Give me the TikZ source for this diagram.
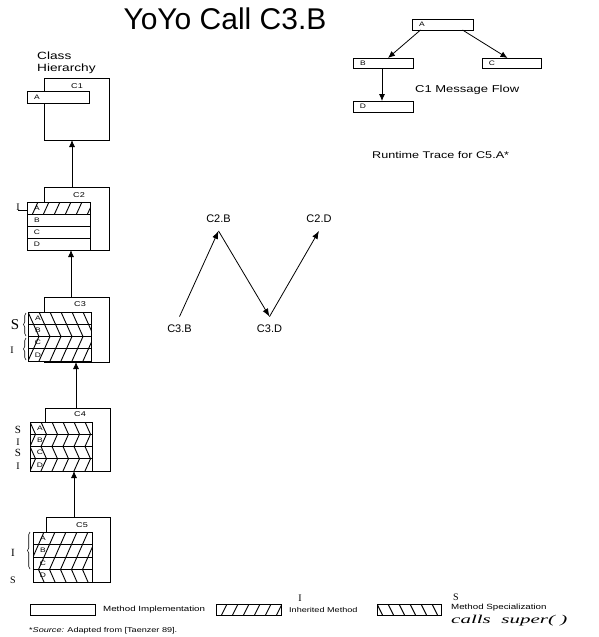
\documentclass[tikz,border=0pt]{standalone}
\usepackage{fontspec}
\setmainfont{Liberation Sans}
\newfontfamily\handfont{Liberation Serif}
\usetikzlibrary{arrows.meta,decorations.pathreplacing}
\newcommand\wideT[1]{\scalebox{1.3}[1]{#1}}
\newcommand\fs[1]{\fontsize{#1}{#1}\selectfont}
\newcommand\methrow[6]{%
  \node[meth, minimum width=#4, minimum height=#5] (#1) at (#2,#3) {};
  \node[rowlbl] (#1l) at ([xshift=10]#1.west) {\wideT{#6}};}
\def\rowh{12.25}
\newcommand\hatchrow[6]{%
  \begin{scope}
  \clip (#1,#2) rectangle (#3,#4);
  \foreach \k in {-3,...,10}
    \draw[hat] ({#1+11*\k+(#5)*5.5*((#2)-(#6))/\rowh},#2) -- ({#1+11*\k+(#5)*5.5*((#4)-(#6))/\rowh},#4);
  \end{scope}}
\begin{document}
\begin{tikzpicture}[x=1pt,y=-1pt,
  frame/.style={draw, line width=0.8pt, inner sep=0pt, outer sep=0pt, anchor=north west},
  meth/.style={draw, fill=white, line width=0.8pt, inner sep=0pt, outer sep=0pt, anchor=north west},
  rowlbl/.style={font=\fs{6.5}, inner sep=0pt},
  clbl/.style={font=\fs{7}, inner sep=0pt},
  hat/.style={line width=0.9pt},
  harr/.style={line width=0.8pt, -{Latex[length=7pt,width=6pt]}},
  farr/.style={line width=0.8pt, -{Latex[length=7pt,width=6pt]}},
  tarr/.style={line width=0.8pt, -{Latex[length=8pt,width=6pt]}},
  tlbl/.style={font=\fs{11}, inner sep=0.5pt, outer sep=8pt},
  hand/.style={font=\handfont\fs{10}, inner sep=0pt},
  brc/.style={decorate, decoration={brace, amplitude=2.5pt}, line width=0.6pt},
  txt/.style={inner sep=0pt, anchor=west},
]
\fill[white] (0,0) rectangle (598,637);
\useasboundingbox (0,0) rectangle (598,637);

% title
\node[font=\fs{30}, inner sep=0pt] (title) at (225,19) {YoYo Call C3.B};

% class hierarchy
\node[anchor=north west, inner sep=0pt, align=left, font=\fontsize{10.5}{11.5}\selectfont] (hier) at (37,52) {\wideT{Class}\\\wideT{Hierarchy}};

% C1
\node[frame, minimum width=65, minimum height=62] (c1) at (44,78) {};
\node[clbl] (c1n) at (77,86) {\wideT{C1}};
\methrow{c1a}{27}{91}{62}{12}{A}

% C2
\node[frame, minimum width=65, minimum height=63] (c2) at (44,187) {};
\node[clbl] (c2n) at (79,195) {\wideT{C2}};
\methrow{c2a}{27}{202}{63}{12}{A}
\methrow{c2b}{27}{214}{63}{12}{B}
\methrow{c2c}{27}{226}{63}{12}{C}
\methrow{c2d}{27}{238}{63}{12}{D}
\def\rowh{12}
\hatchrow{27}{202}{90}{214}{-1}{202}
\node[hand] (c2i) at (18,207) {I};
\draw[line width=0.6pt] (c2i.south) -- (c2i.south -| c2a.west);
\draw[harr] ([xshift=-4.5]c2.north) -- ([xshift=-4.5]c1.south);

% C3
\node[frame, minimum width=65, minimum height=65] (c3) at (44,297) {};
\node[clbl] (c3n) at (80,304) {\wideT{C3}};
\methrow{c3a}{28}{312}{63}{12.25}{A}
\methrow{c3b}{28}{324.25}{63}{12.25}{B}
\methrow{c3c}{28}{336.5}{63}{12.25}{C}
\methrow{c3d}{28}{348.75}{63}{12.25}{D}
\def\rowh{12.25}
\hatchrow{28}{312}{91}{324.25}{1}{312}
\hatchrow{28}{324.25}{91}{336.5}{1}{312}
\hatchrow{28}{336.5}{91}{348.75}{-1}{312}
\hatchrow{28}{348.75}{91}{361}{-1}{312}
\node[hand, font=\handfont\fs{15}] (c3s) at (15,325) {S};
\node[hand] (c3i) at (12,350) {I};
\draw[brc] (26,336) -- (26,313);
\draw[brc] (26,360) -- (26,338);
\draw[harr] ([xshift=-5.5]c3.north) -- ([xshift=-5.5]c2.south);

% C4
\node[frame, minimum width=65, minimum height=63] (c4) at (45,408) {};
\node[clbl] (c4n) at (80,414) {\wideT{C4}};
\methrow{c4a}{30}{422}{62}{12.25}{A}
\methrow{c4b}{30}{434.25}{62}{12.25}{B}
\methrow{c4c}{30}{446.5}{62}{12.25}{C}
\methrow{c4d}{30}{458.75}{62}{12.25}{D}
\hatchrow{30}{422}{92}{434.25}{1}{422}
\hatchrow{30}{434.25}{92}{446.5}{-1}{422}
\hatchrow{30}{446.5}{92}{458.75}{1}{422}
\hatchrow{30}{458.75}{92}{471}{-1}{422}
\node[hand, font=\handfont\fs{11}] (c4s1) at (18,430) {S};
\node[hand] (c4i1) at (18,442) {I};
\node[hand, font=\handfont\fs{11}] (c4s2) at (18,453) {S};
\node[hand] (c4i2) at (18,466) {I};
\draw[harr] ([xshift=-1.5]c4.north) -- ([xshift=-0.5]c3.south);

% C5
\node[frame, minimum width=64, minimum height=65] (c5) at (46,517) {};
\node[clbl] (c5n) at (82,525) {\wideT{C5}};
\methrow{c5a}{33}{532}{59}{12.5}{A}
\methrow{c5b}{33}{544.5}{59}{12.5}{B}
\methrow{c5c}{33}{557}{59}{12.5}{C}
\methrow{c5d}{33}{569.5}{59}{12.5}{D}
\def\rowh{12.5}
\hatchrow{33}{532}{92}{544.5}{-1}{532}
\hatchrow{33}{544.5}{92}{557}{-1}{532}
\hatchrow{33}{557}{92}{569.5}{-1}{532}
\hatchrow{33}{569.5}{92}{582}{1}{532}
\node[hand, font=\handfont\fs{11}] (c5i) at (13,553) {I};
\node[hand, font=\handfont\fs{10}] (c5s) at (13,580) {S};
\draw[brc] (30,569) -- (30,532);
\draw[harr] ([xshift=-4]c5.north) -- ([xshift=-3.5]c4.south);

% legend
\def\rowh{11}
\node[meth, minimum width=65, minimum height=11] (lg1) at (30,604) {};
\node[txt, font=\fs{7.5}] (lg1t) at (103,610) {\wideT{Method Implementation}};
\node[meth, minimum width=65, minimum height=11] (lg2) at (216,604) {};
\hatchrow{216}{604}{281}{615}{-1}{604}
\node[txt, font=\fs{7}] (lg2t) at (289,610) {\wideT{Inherited Method}};
\node[hand] (lg2i) at (300,598) {I};
\node[meth, minimum width=64, minimum height=11] (lg3) at (377,604) {};
\hatchrow{377}{604}{441}{615}{1}{604}
\node[txt, font=\fs{7.5}] (lg3t) at (451,608) {\wideT{Method Specialization}};
\node[hand] (lg3s) at (456,597) {S};
\node[txt, font=\handfont\itshape\fs{12}] (calls) at (451,621) {\scalebox{1.75}[1]{calls\ \ super( )}};
\node[txt, font=\fs{7}] (src) at (29,631) {\wideT{*\textit{Source:} Adapted from [Taenzer 89].}};

% C1 message flow
\methrow{fa}{412}{19}{61}{11}{A}
\methrow{fb}{353}{58}{60}{10.5}{B}
\methrow{fc}{482}{58}{59}{10.5}{C}
\methrow{fd}{353}{101}{60}{11}{D}
\draw[farr] ([xshift=-22]fa.south) -- ([xshift=5]fb.north);
\draw[farr] ([xshift=20]fa.south) -- ([xshift=-4]fc.north);
\draw[farr] ([xshift=-1]fb.south) -- ([xshift=-1]fd.north);
\node[txt, font=\fs{10}] (mf) at (415,90) {\wideT{C1 Message Flow}};
\node[txt, font=\fs{9.7}] (rt) at (372,155) {\wideT{Runtime Trace for C5.A*}};

% runtime trace
\node[tlbl] (t1) at (179.5,329) {C3.B};
\node[tlbl] (t2) at (218.5,218.5) {C2.B};
\node[tlbl] (t3) at (269.5,329) {C3.D};
\node[tlbl] (t4) at (319,218.5) {C2.D};
\draw[tarr] (t1.north) -- (t2.south);
\draw[tarr] (t2.south) -- (t3.north);
\draw[tarr] (t3.north) -- (t4.south);
\end{tikzpicture}
\end{document}
